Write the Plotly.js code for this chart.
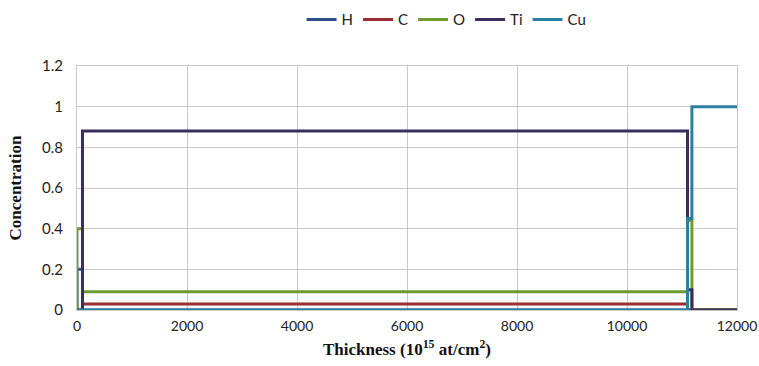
<!DOCTYPE html>
<html>
<head>
<meta charset="utf-8">
<script src="https://cdn.plot.ly/plotly-3.0.1.min.js"></script>
<style>html,body{margin:0;padding:0;background:#fff;}#chart{width:759px;height:366px;}</style>
</head>
<body>
<div id="chart"></div>
<script>
// Layer boundaries (10^15 at/cm^2) and step concentrations
const thickness = [0, 0, 100, 11100, 11180, 12000];
const H  = [0, 0.2, 0, 0, 0, 0];
const C  = [0, 0, 0.03, 0, 0, 0];
const O  = [0, 0.4, 0.09, 0.44, 0, 0];
const Ti = [0, 0, 0.88, 0.1, 0, 0];
const Cu = [0, 0, 0, 0.45, 1, 1];
const names = ['H', 'C', 'O', 'Ti', 'Cu'];
const series = [H, C, O, Ti, Cu];
const colors = ['#2C4D8A', '#9B2C32', '#6E9A32', '#3A2E5E', '#2B7FA0'];
const xTicks = [0, 2000, 4000, 6000, 8000, 10000, 12000];
const xTickText = ['0', '2000', '4000', '6000', '8000', '10000', '12000'];
const yTicks = [0, 0.2, 0.4, 0.6, 0.8, 1, 1.2];
const yTickText = ['0', '0.2', '0.4', '0.6', '0.8', '1', '1.2'];

const traces = series.map((s, i) => ({
  x: thickness, y: s, name: names[i], type: 'scatter', mode: 'lines',
  line: {shape: 'hv', color: colors[i], width: 3}
}));

const titleFont = {family: '"Liberation Serif", "Times New Roman", serif', size: 17, color: '#111', weight: 'bold'};

const layout = {
  width: 759, height: 366,
  margin: {l: 77, r: 22, t: 66, b: 56, autoexpand: false},
  paper_bgcolor: '#fff', plot_bgcolor: '#fff',
  font: {family: 'Lato, "Open Sans", sans-serif', size: 15, color: '#222'},
  showlegend: true,
  legend: {orientation: 'h', x: 0.56, xanchor: 'center', y: 1.19, yanchor: 'middle',
           font: {size: 15}, itemwidth: 30},
  xaxis: {
    range: [0, 12000], tickvals: xTicks, ticktext: xTickText,
    showgrid: true, gridcolor: '#c8c8c8', gridwidth: 1,
    zeroline: false, showline: true, linecolor: '#c8c8c8', mirror: true,
    ticks: '', tickfont: {size: 14}, ticklabelstandoff: 3,
    title: {text: 'Thickness (10<sup>15</sup> at/cm<sup>2</sup>)', font: titleFont, standoff: 10}
  },
  yaxis: {
    range: [0, 1.2], tickvals: yTicks, ticktext: yTickText,
    showgrid: true, gridcolor: '#c8c8c8', gridwidth: 1,
    zeroline: false, showline: true, linecolor: '#c8c8c8', mirror: true,
    ticks: '', tickfont: {size: 15}, ticklabelstandoff: 10,
    title: {text: 'Concentration', font: titleFont, standoff: 16}
  }
};
Plotly.newPlot('chart', traces, layout, {displayModeBar: false, staticPlot: true});
</script>
</body>
</html>
